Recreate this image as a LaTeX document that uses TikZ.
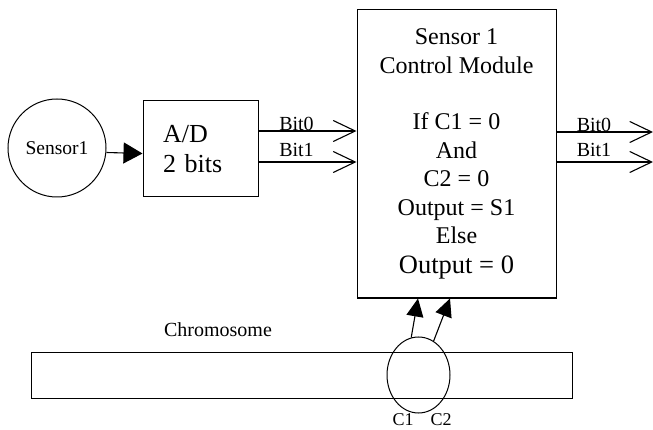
\documentclass[tikz,border=0pt]{standalone}
\usepackage{fontspec}
\setmainfont{Liberation Serif}
\usetikzlibrary{arrows.meta, positioning, shapes.geometric}
\tikzset{
  >=latex,
  % Blocchi e sensore
  box/.style={draw,rectangle,line width=1pt,inner sep=0pt},
  sensor node/.style={draw,circle,line width=1pt,minimum size=98pt,inner sep=0pt,font=\fontsize{19.5}{23}\selectfont},
  gene ring/.style={draw,ellipse,line width=1pt,minimum width=63pt,minimum height=76pt,inner sep=0pt},
  % Etichette
  bit label/.style={anchor=base,inner sep=0pt,font=\fontsize{20}{24}\selectfont},
  gene label/.style={inner sep=0pt,font=\fontsize{18}{22}\selectfont},
  % Connessioni
  fill arrow/.style={-{Triangle[length=19pt,width=21pt]},line width=1.1pt},
  gene arrow/.style={-{Triangle[length=18pt,width=17pt]},line width=1.1pt},
  bit arrow/.style={-{Straight Barb[length=22pt,width=21pt]},line width=1.1pt}
}

\begin{document}
\begin{tikzpicture}[x=1pt,y=-1pt]
    \useasboundingbox (0,0) rectangle (653,430);
    \node[sensor node] (sensor) at (57,148) {Sensor1};
    \node[box,minimum width=115pt,minimum height=96pt,text width=75pt,align=left,font=\fontsize{26}{30}\selectfont] (ad) at (200.5,149) {A/D\\2 bits};
    \node[box,minimum width=199pt,minimum height=288pt,align=center,font=\fontsize{24}{28.4}\selectfont] (ctrl) at (456.5,154)
      {Sensor 1\\Control Module\\[28.4pt]If C1 = 0\\And\\C2 = 0\\Output = S1\\Else\\[1.6pt]{\fontsize{26.5}{30}\selectfont Output = 0}};
    \node[box,minimum width=541pt,minimum height=46pt] (chrom) at (301.5,375) {};
    \node[inner sep=0pt,font=\fontsize{20}{24}\selectfont] (chromtext) at (218,330) {Chromosome};
    \node[gene ring] (genes) at (418.5,375) {};
    \node[gene label] (c1) at (403,420) {C1};
    \node[gene label] (c2) at (441,420) {C2};
    \coordinate (out0) at (653,132);
    \coordinate (out1) at (653,162);
    \draw[fill arrow] ([yshift=-4.5pt]sensor.east) -- ([yshift=-4.5pt]ad.west);
    \draw[bit arrow] ([yshift=18pt]ad.east) -- ([yshift=18pt]ad.east -| ctrl.west);
    \draw[bit arrow] ([yshift=-13pt]ad.east) -- ([yshift=-13pt]ad.east -| ctrl.west);
    \draw[bit arrow] (ctrl.east |- out0) -- (out0);
    \draw[bit arrow] (ctrl.east |- out1) -- (out1);
    \node[bit label] (inbit0) at (296.5,131) {Bit0};
    \node[bit label] (inbit1) at (296.5,157) {Bit1};
    \node[bit label] (outbit0) at (594,132) {Bit0};
    \node[bit label] (outbit1) at (594,157) {Bit1};
    \draw[gene arrow] (genes.101) -- ([xshift=-38.5pt]ctrl.south);
    \draw[gene arrow] (genes.66) -- ([xshift=-6.5pt]ctrl.south);
  \end{tikzpicture}
\end{document}
